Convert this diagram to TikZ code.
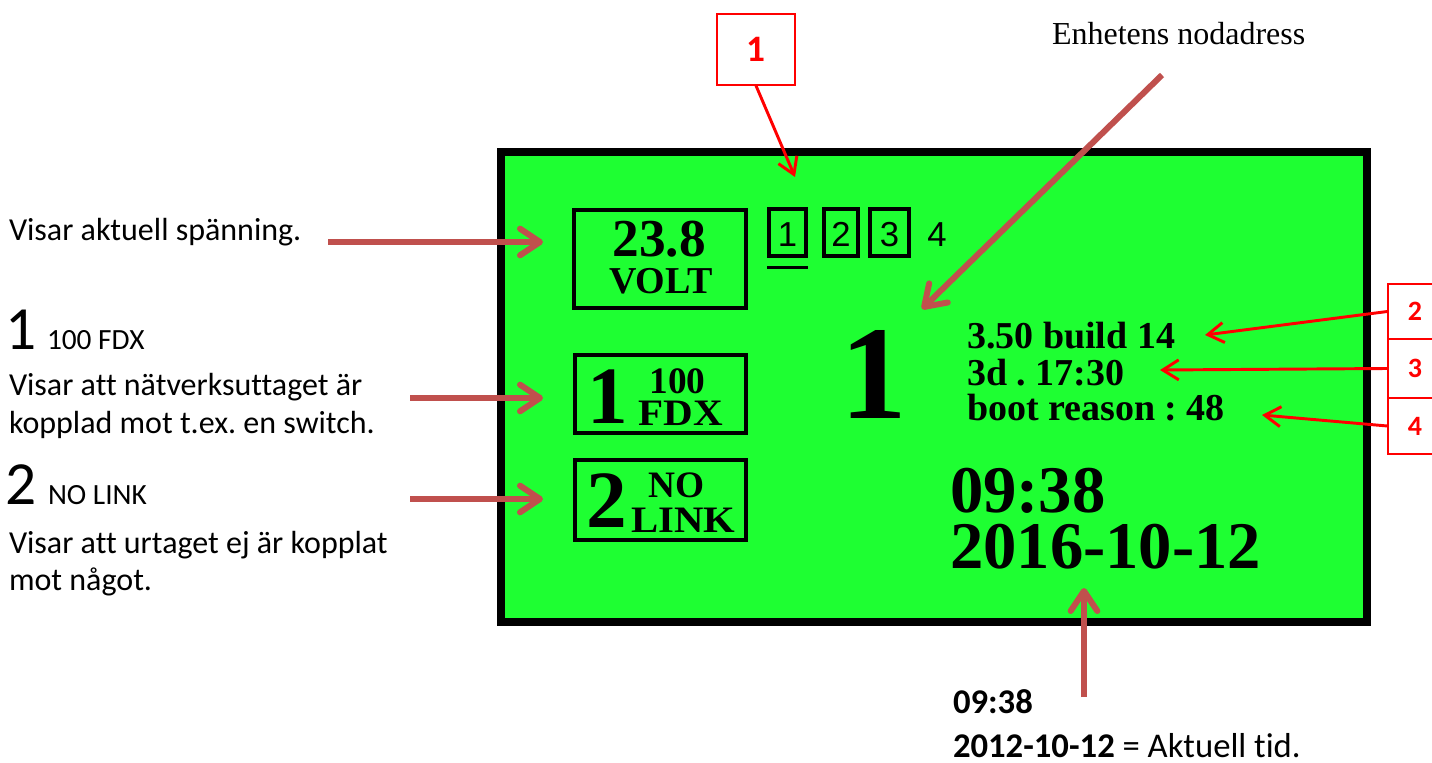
\documentclass[tikz,border=0pt]{standalone}
\usepackage{graphicx}
\usepackage{fontspec}
\setmainfont{Liberation Serif}
\newfontfamily\calfont[Ligatures=NoCommon]{Carlito}
\newfontfamily\arialfont{Liberation Sans}
\usetikzlibrary{arrows.meta}
\definecolor{lcd}{RGB}{30,255,50}
\definecolor{brn}{RGB}{192,80,77}
\definecolor{lblred}{RGB}{255,0,0}
\newcommand{\fs}[1]{\fontsize{#1}{#1}\selectfont}
\frenchspacing
\begin{document}
\begin{tikzpicture}[x=0.75pt,y=-0.75pt,
  txt/.style={inner sep=0pt,outer sep=0pt,anchor=base west},
  ctxt/.style={inner sep=0pt,outer sep=0pt,anchor=base},
  lcdbox/.style={draw=black,line width=3pt},
  brownarrow/.style={draw=brn,line width=4.5pt,-{Straight Barb[length=15pt,width=20pt,round]}},
  redarrow/.style={draw=lblred,line width=2.2pt,-{Straight Barb[length=12pt,width=15pt]}},
  redbox/.style={draw=lblred,line width=1pt,inner sep=0pt,text=lblred,font=\calfont\bfseries}
]
\clip (0,0) rectangle (1432,763);
\fill[white] (0,0) rectangle (1432,763);

% LCD screen
\draw[fill=lcd,line width=6pt] (501,152) rectangle (1366.5,622);

% voltage box
\draw[lcdbox] (574,210) rectangle (746,308);
\node[ctxt] (volt) at (659,257) {\fs{40pt}\bfseries 23.8};
\node[ctxt] (voltlbl) at (661,293) {\fs{28.5pt}\bfseries VOLT};

% port indicator boxes
\draw[lcdbox] (769,209) rectangle (806,256);
\draw[lcdbox] (824,209) rectangle (858,256);
\draw[lcdbox] (870,209) rectangle (909,256);
\node[ctxt] (p1) at (787.5,247) {\arialfont\fs{26pt}1};
\node[ctxt] (p2) at (841,247) {\arialfont\fs{26pt}2};
\node[ctxt] (p3) at (889.5,247) {\arialfont\fs{26pt}3};
\node[ctxt] (p4) at (937,247) {\arialfont\fs{26pt}4};
\draw[line width=2.25pt] (767,267) -- (808,267);

% port 1 box
\draw[lcdbox] (575,355) rectangle (746,433);
\node[ctxt] (pa1) at (608,423) {\fs{61pt}\bfseries 1};
\node[ctxt] (pa100) at (677.5,393) {\fs{28pt}\bfseries 100};
\node[ctxt] (pafdx) at (680.5,425) {\scalebox{1.1}[1]{\fs{28pt}\bfseries FDX}};

% port 2 box
\draw[lcdbox] (575,460) rectangle (746,540);
\node[ctxt] (pb2) at (606.5,527) {\fs{61pt}\bfseries 2};
\node[ctxt] (pbno) at (676.5,497) {\fs{28pt}\bfseries NO};
\node[ctxt] (pblink) at (683.5,532) {\scalebox{1.09}[1]{\fs{28pt}\bfseries LINK}};

% node address
\node[ctxt] (addr) at (873.5,418) {\fs{100pt}\bfseries 1};

% version info
\node[txt] (ver) at (967,348) {\fs{28.5pt}\bfseries 3.50 build 14};
\node[txt] (up) at (967,385) {\fs{28.5pt}\bfseries 3d . 17:30};
\node[txt] (boot) at (967,420) {\fs{28.5pt}\bfseries boot reason : 48};

% time
\node[txt] (time) at (950,512) {\fs{50pt}\bfseries 09:38};
\node[txt] (date) at (950,568) {\fs{50pt}\bfseries 2016-10-12};

% annotation texts
\node[txt] (enh) at (1052,45) {\fs{24pt}Enhetens nodadress};
\node[txt] (t1) at (9,241) {\calfont\fs{24pt}Visar aktuell spänning.};
\node[txt] (t2a) at (6,349) {\calfont\fs{46pt}1};
\node[txt] (t2b) at (47,349) {\calfont\fs{22pt}100 FDX};
\node[txt] (t2c) at (9,395) {\calfont\fs{24pt}Visar att nätverksuttaget är};
\node[txt] (t2d) at (9,433) {\calfont\fs{24pt}kopplad mot t.ex. en switch.};
\node[txt] (t3a) at (6,504) {\calfont\fs{46pt}2};
\node[txt] (t3b) at (48,504) {\calfont\fs{22pt}NO LINK};
\node[txt] (t3c) at (9,553) {\calfont\fs{24pt}Visar att urtaget ej är kopplat};
\node[txt] (t3d) at (9,590) {\calfont\fs{24pt}mot något.};
\node[txt] (t4a) at (953,713) {\calfont\fs{26pt}\bfseries 09:38};
\node[txt] (t4b) at (953,757) {\calfont\fs{26pt}{\bfseries 2012-10-12} = Aktuell tid.};

% red numbered boxes
\node[redbox,minimum width=58.5pt,minimum height=53.25pt] (b1) at (756,49.5) {\fs{28pt}1};
\node[redbox,minimum width=40.5pt,minimum height=41.25pt] (b2) at (1415,311.5) {\fs{21pt}2};
\node[redbox,minimum width=40.5pt,minimum height=44.25pt] (b3) at (1415,368.5) {\fs{21pt}3};
\node[redbox,minimum width=40.5pt,minimum height=42pt] (b4) at (1415,426) {\fs{21pt}4};

% arrow end points
\coordinate (a1s) at (328,242);  \coordinate (a1e) at (543,242);
\coordinate (a2s) at (410,398);  \coordinate (a2e) at (543,398);
\coordinate (a3s) at (410,499);  \coordinate (a3e) at (543,499);
\coordinate (a4s) at (1162,75);  \coordinate (a4e) at (922,309);
\coordinate (a5s) at (1084,697); \coordinate (a5e) at (1084,588);
\coordinate (r1e) at (795,177);
\coordinate (r2e) at (1205,335);
\coordinate (r3e) at (1160,370);
\coordinate (r4e) at (1262,415);

\draw[brownarrow] (a1s) -- (a1e);
\draw[brownarrow] (a2s) -- (a2e);
\draw[brownarrow] (a3s) -- (a3e);
\draw[brownarrow] (a4s) -- (a4e);
\draw[brownarrow] (a5s) -- (a5e);

\draw[redarrow] (b1.south) -- (r1e);
\draw[redarrow] (b2.west) -- (r2e);
\draw[redarrow] (b3.west) -- (r3e);
\draw[redarrow] (b4.west) -- (r4e);
\end{tikzpicture}
\end{document}
